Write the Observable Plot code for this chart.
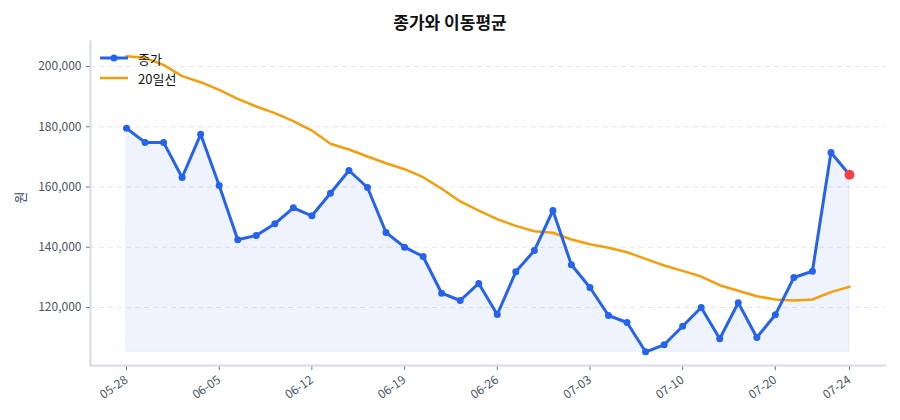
<!DOCTYPE html>
<html>
<head>
<meta charset="utf-8">
<script src="https://cdn.jsdelivr.net/npm/d3@7"></script>
<script src="https://cdn.jsdelivr.net/npm/@observablehq/plot@0.6"></script>
<style>
  body { margin: 0; background: #fff; font-family: "Noto Sans CJK KR", "Noto Sans", sans-serif; }
  #wrap { position: relative; width: 900px; height: 420px; }
  #title { height: 32px; line-height: 44px; text-align: center; font-size: 17px; font-weight: bold; color: #111; }
  #legend { position: absolute; left: 98px; top: 48px; font-size: 13px; color: #111; }
  #legend .row { display: flex; align-items: center; height: 20px; }
  #legend svg { margin-right: 8px; }
</style>
</head>
<body>
<div id="wrap">
  <div id="title">종가와 이동평균</div>
  <div id="chart"></div>
  <div id="legend">
    <div class="row"><svg width="32" height="12"><line x1="2" y1="6" x2="30" y2="6" stroke="#2563eb" stroke-width="3"/><circle cx="16" cy="6" r="3.5" fill="#2563eb"/></svg>종가</div>
    <div class="row"><svg width="32" height="12"><line x1="2" y1="6" x2="30" y2="6" stroke="#f59e0b" stroke-width="2.5"/></svg>20일선</div>
  </div>
</div>
<script>
const dates = ["05-28","05-29","05-30","06-02","06-03","06-05","06-06","06-09","06-10","06-11",
  "06-12","06-13","06-16","06-17","06-18","06-19","06-20","06-23","06-24","06-25",
  "06-26","06-27","06-30","07-01","07-02","07-03","07-04","07-07","07-08","07-09",
  "07-10","07-11","07-14","07-15","07-17","07-20","07-21","07-22","07-23","07-24"];
const close = [179500,174800,174800,163150,177500,160500,142470,143900,147800,153100,
  150440,157950,165480,159830,144900,140020,136930,124750,122320,128000,
  117680,131850,138920,152200,134170,126640,117340,115020,105290,107620,
  113800,120000,109610,121560,110040,117580,129960,132050,171450,164050];
const ma20 = [203420,202880,200560,196790,194790,192260,189280,186720,184500,181840,
  178750,174340,172450,170130,167900,165910,163260,159400,155190,152200,
  149300,147100,145330,144800,142570,141010,139810,138350,136150,133940,
  132170,130290,127400,125540,123750,122660,122320,122660,125090,126880];
const tickDates = ["05-28","06-05","06-12","06-19","06-26","07-03","07-10","07-20","07-24"];
const yTicks = [120000,140000,160000,180000,200000];

const data = dates.map((d, i) => ({i, date: d, close: close[i], ma20: ma20[i]}));
const base = d3.min(close);
const last = data.slice(-1);
const tickIdx = tickDates.map(t => dates.indexOf(t));

const chart = Plot.plot({
  width: 900,
  height: 388,
  marginTop: 9,
  marginBottom: 55,
  marginLeft: 90,
  marginRight: 15,
  style: {fontFamily: '"Noto Sans CJK KR", "Noto Sans", sans-serif', fontSize: "12px", color: "#4b5563"},
  x: {domain: [0, dates.length - 1], insetLeft: 36, insetRight: 36},
  y: {domain: [100750, 208300]},
  marks: [
    Plot.gridY(yTicks, {stroke: "#e5e7eb", strokeOpacity: 1, strokeDasharray: "5,4"}),
    Plot.areaY(data, {x: "i", y1: () => base, y2: "close", fill: "#2563eb", fillOpacity: 0.08, stroke: "#2563eb", strokeOpacity: 0.08}),
    Plot.lineY(data, {x: "i", y: "ma20", stroke: "#f59e0b", strokeWidth: 2.5}),
    Plot.lineY(data, {x: "i", y: "close", stroke: "#2563eb", strokeWidth: 3}),
    Plot.dot(data.slice(0, -1), {x: "i", y: "close", fill: "#2563eb", r: 3.5}),
    Plot.dot(last, {x: "i", y: "close", fill: "#ef4444", r: 5}),
    Plot.axisX({ticks: tickIdx, tickFormat: i => dates[i], tickRotate: -35, tickSize: 5, stroke: "#6b7280", fill: "#4b5563", label: null, tickPadding: 8}),
    Plot.axisY({ticks: yTicks, tickFormat: d3.format(","), tickSize: 4, tickPadding: 5, stroke: "#6b7280", fill: "#4b5563", label: null}),
    Plot.text(["원"], {frameAnchor: "left", dx: -70, rotate: -90, fontSize: 13, fill: "#374151"}),
    Plot.frame({anchor: "left", stroke: "#d9dce3", strokeWidth: 2}),
    Plot.frame({anchor: "bottom", stroke: "#d9dce3", strokeWidth: 2})
  ]
});
document.getElementById("chart").appendChild(chart);
</script>
</body>
</html>
